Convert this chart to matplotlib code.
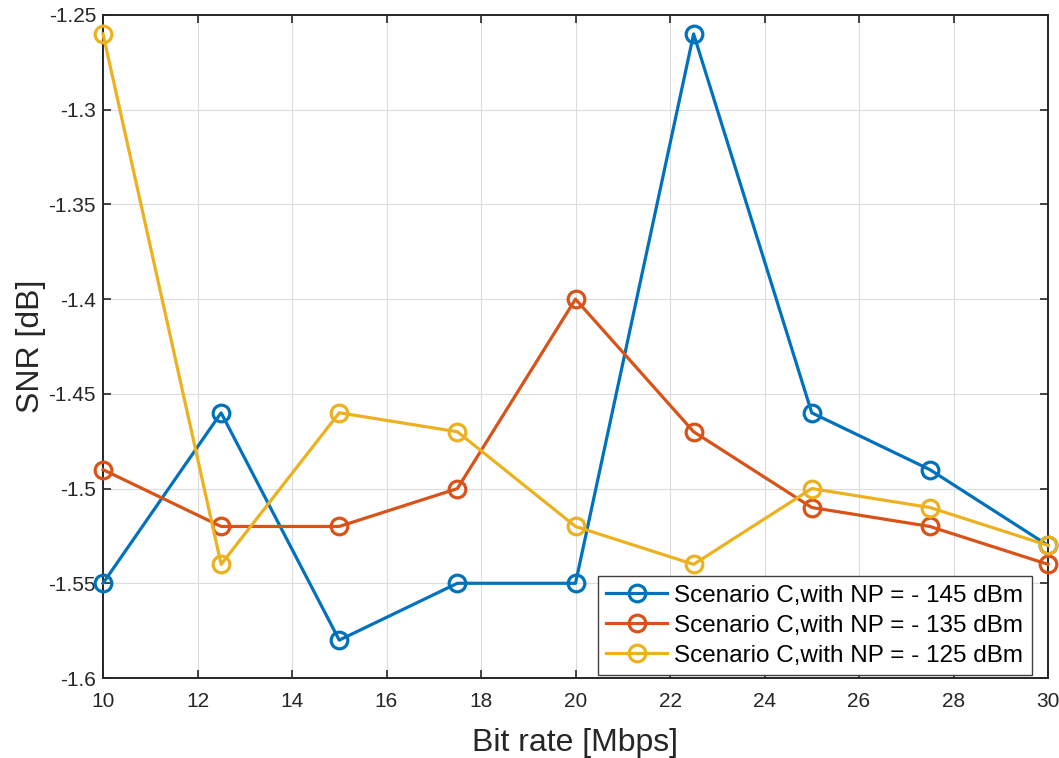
import matplotlib.pyplot as plt

# data
bit_rate = [10, 12.5, 15, 17.5, 20, 22.5, 25, 27.5, 30]
snr_145 = [-1.55, -1.46, -1.58, -1.55, -1.55, -1.26, -1.46, -1.49, -1.53]
snr_135 = [-1.49, -1.52, -1.52, -1.50, -1.40, -1.47, -1.51, -1.52, -1.54]
snr_125 = [-1.26, -1.54, -1.46, -1.47, -1.52, -1.54, -1.50, -1.51, -1.53]
labels = ['Scenario C,with NP = - 145 dBm',
          'Scenario C,with NP = - 135 dBm',
          'Scenario C,with NP = - 125 dBm']
colors = ['#0072BD', '#D95319', '#EDB120']

plt.rcParams['font.family'] = ['Liberation Sans', 'DejaVu Sans']

fig = plt.figure(figsize=(10.59, 7.58), dpi=100)
ax = fig.add_axes([103 / 1059, 1 - 678 / 758, (1048 - 103) / 1059, (678 - 15) / 758])

for ys, lab, c in zip([snr_145, snr_135, snr_125], labels, colors):
    ax.plot(bit_rate, ys, '-o', color=c, lw=2.3, ms=12, mfc='none', mew=2.3,
            label=lab, clip_on=False, zorder=3)

ax.set_xlim(10, 30)
ax.set_ylim(-1.6, -1.25)
ax.set_xticks(range(10, 31, 2))
ax.set_yticks([-1.6, -1.55, -1.5, -1.45, -1.4, -1.35, -1.3, -1.25])
ax.set_yticklabels(['-1.6', '-1.55', '-1.5', '-1.45', '-1.4', '-1.35', '-1.3', '-1.25'])
ax.tick_params(labelsize=15, direction='in', length=6, width=1.2, top=True, right=True,
               colors='#262626')
ax.tick_params(axis='x', pad=10)
ax.tick_params(axis='y', pad=5)
ax.grid(True, color='#dcdcdc', lw=0.8)
ax.set_axisbelow(True)
for s in ax.spines.values():
    s.set_color('#262626')
    s.set_linewidth(1.4)

ax.set_xlabel('Bit rate [Mbps]', fontsize=23, color='#262626', labelpad=12)
ax.set_ylabel('SNR [dB]', fontsize=23, color='#262626', labelpad=2)

leg = ax.legend(loc='lower right', bbox_to_anchor=(0.983, 0.0045), borderaxespad=0,
                fontsize=17.5, fancybox=False, framealpha=1, edgecolor='#404040',
                handlelength=2.5, labelspacing=0.32, borderpad=0.35, handletextpad=0.3)
leg.get_frame().set_linewidth(1)
leg.set_zorder(5)

fig.savefig('out.png', dpi=100)
